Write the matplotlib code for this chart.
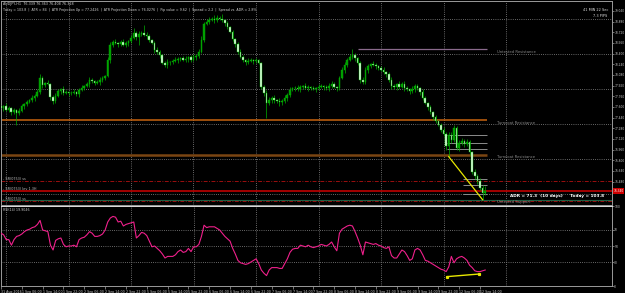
import matplotlib
matplotlib.use("Agg")
import matplotlib.pyplot as plt
import numpy as np
from matplotlib.transforms import blended_transform_factory as btf

# ---------------- data ----------------
symbol_line = "AUDJPY,H1  76.339 76.363 76.408 76.328"
info_line = ("Today = 103.8  |  ATR = 84  |  ATR Projection Up = 77.2426  |  ATR Projection Down = 76.0276  |"
             "  Pip value = 9.62  |  Spread = 2.2  |  Spread vs. ADR = 2.8%")
timer_lines = ["41 MIN 22 Sec", "7.3 PIPS"]
adr_text = "ADR = 71.3  (10 days)     Today = 103.8"
rsi_title = "RSI(14) 19.9046"

first_open = 77.615
close = [
    # 31 Aug 22:00-23:00
    77.585, 77.615,
    # 1 Sep
    77.555, 77.585, 77.525, 77.555, 77.510, 77.540, 77.615, 77.645, 77.675, 77.705, 77.735, 77.765,
    77.825, 78.035, 77.930, 77.960, 77.945, 77.750, 77.690, 77.765, 77.840, 77.870, 77.810, 77.825,
    # 2 Sep
    77.810, 77.810, 77.825, 77.795, 77.855, 77.885, 77.915, 77.945, 78.005, 77.990, 77.960, 77.975,
    78.005, 78.035, 78.065, 78.305, 78.530, 78.575, 78.560, 78.545, 78.575, 78.530, 78.560, 78.590,
    # 5 Sep
    78.635, 78.710, 78.650, 78.695, 78.710, 78.680, 78.665, 78.605, 78.560, 78.455, 78.425, 78.380,
    78.260, 78.230, 78.275, 78.275, 78.290, 78.305, 78.320, 78.335, 78.305, 78.320, 78.350, 78.305,
    # 6 Sep
    78.350, 78.365, 78.425, 78.605, 78.845, 78.875, 78.905, 78.920, 78.905, 78.935, 78.920, 78.905,
    78.860, 78.800, 78.725, 78.620, 78.545, 78.425, 78.350, 78.305, 78.275, 78.290, 78.305, 78.290,
    # 7 Sep
    78.305, 78.260, 77.900, 77.810, 77.660, 77.705, 77.735, 77.705, 77.690, 77.675, 77.690, 77.735,
    77.780, 77.855, 77.885, 77.885, 77.870, 77.900, 77.915, 77.885, 77.900, 77.885, 77.870, 77.885,
    # 8 Sep
    77.900, 77.915, 77.900, 77.885, 77.915, 77.945, 77.900, 77.885, 78.035, 78.155, 78.230, 78.305,
    78.350, 78.380, 78.335, 78.260, 78.005, 77.975, 78.155, 78.215, 78.245, 78.230, 78.215, 78.185,
    # 9 Sep
    78.155, 78.125, 78.095, 78.005, 77.915, 77.900, 77.945, 77.900, 77.945, 77.885, 77.870, 77.840,
    77.870, 77.915, 77.885, 77.825, 77.735, 77.660, 77.600, 77.525, 77.450, 77.390, 77.330, 77.255,
    # 12 Sep 00:00-16:00
    77.195, 77.015, 77.180, 77.105, 77.285, 76.985, 77.060, 77.090, 77.045, 77.075, 76.925, 76.625,
    76.565, 76.490, 76.385, 76.310, 76.340,
]
# wick lengths beyond the body, in pips
wick_up = [
    3, 2, 4, 3, 2, 3, 2, 4, 3, 2,
    3, 2, 4, 3, 5, 6, 3, 2, 4, 2,
    3, 4, 3, 2, 4, 3, 2, 3, 4, 2,
    3, 4, 2, 3, 5, 3, 2, 3, 4, 3,
    2, 4, 5, 3, 4, 2, 3, 5, 3, 2,
    4, 8, 3, 5, 3, 12, 4, 3, 2, 3,
    4, 3, 2, 3, 4, 2, 3, 5, 3, 2,
    3, 4, 2, 3, 5, 3, 4, 6, 3, 4,
    5, 3, 6, 4, 3, 7, 2, 3, 2, 3,
    2, 3, 4, 3, 2, 4, 3, 2, 3, 2,
    2, 3, 4, 5, 3, 4, 2, 5, 3, 4,
    3, 4, 2, 3, 5, 3, 2, 4, 3, 2,
    3, 2, 4, 3, 2, 3, 4, 5, 3, 2,
    3, 4, 5, 3, 4, 9, 3, 2, 3, 4,
    5, 3, 2, 4, 3, 2, 3, 4, 2, 3,
    4, 3, 2, 5, 3, 4, 3, 2, 4, 3,
    3, 2, 4, 3, 2, 3, 2, 3, 2, 3,
    4, 3, 4, 4, 4, 3, 5, 4, 3, 4,
    3, 2, 4, 3, 5, 4, 8,
]
wick_dn = [
    3, 4, 2, 3, 4, 3, 18, 3, 2, 4,
    3, 2, 3, 4, 2, 3, 4, 3, 2, 4,
    5, 3, 2, 4, 3, 2, 4, 3, 2, 3,
    4, 2, 3, 2, 4, 3, 3, 2, 4, 3,
    3, 2, 4, 3, 2, 4, 3, 2, 3, 4,
    3, 2, 4, 12, 3, 2, 4, 3, 2, 4,
    3, 4, 2, 3, 4, 5, 3, 2, 4, 3,
    2, 3, 4, 3, 2, 4, 3, 2, 3, 2,
    3, 2, 4, 3, 2, 3, 4, 3, 2, 3,
    4, 3, 2, 3, 4, 3, 2, 4, 3, 2,
    3, 4, 22, 3, 4, 5, 3, 6, 4, 3,
    4, 3, 2, 5, 3, 4, 3, 2, 4, 3,
    2, 4, 3, 2, 5, 3, 4, 3, 2, 4,
    3, 2, 4, 3, 2, 3, 4, 3, 4, 3,
    3, 4, 3, 2, 4, 3, 2, 3, 4, 3,
    5, 3, 4, 3, 2, 4, 3, 5, 3, 4,
    3, 4, 3, 2, 4, 3, 4, 3, 2, 3,
    3, 6, 16, 4, 3, 3, 4, 3, 4, 3,
    4, 3, 5, 4, 3, 10, 3,
]
rsi = [
    66, 64, 58, 58, 51, 58, 62, 63, 65, 68,
    70, 71, 73, 74, 77, 82, 70, 69, 68, 51,
    45, 57, 59, 60, 52, 49, 50, 50, 51, 49,
    58, 60, 61, 64, 68, 66, 62, 62, 63, 65,
    70, 80, 85, 87, 86, 80, 81, 75, 77, 78,
    79, 80, 60, 63, 67, 66, 63, 56, 49, 50,
    47, 44, 40, 35, 37, 37, 37, 39, 43, 45,
    42, 43, 47, 43, 49, 49, 52, 62, 76, 73,
    74, 74, 74, 72, 70, 66, 62, 59, 56, 47,
    40, 32, 29, 28, 27, 28, 30, 32, 34, 28,
    20, 16, 13, 20, 23, 23, 23, 22, 22, 28,
    34, 42, 46, 47, 47, 51, 50, 49, 51, 49,
    48, 49, 50, 52, 51, 50, 52, 55, 49, 44,
    66, 71, 73, 75, 76, 75, 68, 60, 51, 39,
    55, 54, 53, 52, 53, 51, 50, 48, 47, 49,
    38, 35, 35, 40, 45, 43, 38, 32, 34, 45,
    47, 45, 39, 32, 31, 29, 27, 25, 23, 21,
    20, 18, 24, 37, 29, 34, 36, 37, 35, 32,
    26, 23, 19, 18, 18, 19, 20,
]
xtick_labels = ["31 Aug 2016", "1 Sep 06:00", "1 Sep 14:00", "1 Sep 22:00", "2 Sep 06:00", "2 Sep 14:00",
                "2 Sep 22:00", "5 Sep 06:00", "5 Sep 14:00", "5 Sep 22:00", "6 Sep 06:00", "6 Sep 14:00",
                "6 Sep 22:00", "7 Sep 06:00", "7 Sep 14:00", "7 Sep 22:00", "8 Sep 06:00", "8 Sep 14:00",
                "8 Sep 22:00", "9 Sep 06:00", "9 Sep 14:00", "9 Sep 22:00", "12 Sep 06:00", "12 Sep 14:00"]
day_start_bars = [2, 26, 50, 74, 98, 122, 146, 170, 194]
price_ticks = [79.04 - 0.16 * k for k in range(17)]
price_grid = [78.92, 78.395, 77.87, 77.345, 76.82, 76.295]
rsi_ticks = [0, 30, 50, 70, 100]

# support / resistance levels
sr_orange = 77.405
sr_brown = 76.88
sr_purple = 78.47
sr_purple_from = 137
pivot_upper = [77.18, 77.06, 76.97]
pivot_lower = [76.52, 76.43, 76.295]
dashdot_levels = [76.49, 76.19]
current_price = 76.34
green_level = 76.21
zone_labels = [("Untested Resistance", 78.43), ("Turncoat Resistance", 77.36),
               ("Turncoat Resistance", 76.85), ("Untested Support", 76.175)]
left_labels = [("SR(0753) ss", 76.52), ("SR(0753) lev 1.3H", 76.37), ("SR(0753) ss", 76.22)]
trend_bars = [172, 185]
rsi_trend_x = [171.3, 183.8]
rsi_trend_y = [11.7, 15.0]

# ---------------- figure ----------------
W, H = 625, 293
fig = plt.figure(figsize=(W / 100, H / 100), dpi=100, facecolor="black")


def px_axes(x0, y0, x1, y1):
    return fig.add_axes([x0 / W, 1 - y1 / H, (x1 - x0) / W, (y1 - y0) / H])


ax = px_axes(1, 1, 612, 205)
axr = px_axes(1, 206, 612, 286)

BAR_PX = 62.5 / 24.0
xlo = 2 + (1 - 6) / BAR_PX
xhi = 2 + (612 - 6) / BAR_PX
n = len(close)
x = np.arange(n)
c = np.array(close)
o = np.r_[first_open, c[:-1]]
hi = np.maximum(o, c) + np.array(wick_up) * 0.01
lo = np.minimum(o, c) - np.array(wick_dn) * 0.01
end_bar = n - 1 + 0.7

GRID = dict(color="#8a8a8a", lw=0.6, linestyle=(0, (1, 1.6)))
for a in (ax, axr):
    a.set_facecolor("black")
    a.set_xlim(xlo, xhi)
    for b in day_start_bars:
        a.axvline(b, zorder=0, **GRID)
    for s in a.spines.values():
        s.set_color("#9a9a9a")
        s.set_linewidth(0.7)

ax.set_ylim(76.13, 79.19)
for p in price_grid:
    ax.axhline(p, zorder=0, **GRID)

# levels
ax.hlines(sr_orange, xlo, end_bar, color="#c8640f", lw=1.1, zorder=1)
ax.hlines(sr_brown, xlo, end_bar, color="#7a4512", lw=1.8, zorder=1)
ax.hlines(sr_purple, sr_purple_from, end_bar, color="#8a6a8c", lw=0.9, zorder=1)
ax.hlines(pivot_upper, 171.4, end_bar, color="#8c8c8c", lw=0.7, zorder=1)
ax.hlines(pivot_lower, 177.5, end_bar, color="#8c8c8c", lw=0.7, zorder=1)
for lv in dashdot_levels:
    ax.axhline(lv, color="#9a0f0f", lw=0.7, linestyle=(0, (4, 1.5, 1, 1.5)), zorder=1)
ax.axhline(green_level, color="#1f5e42", lw=0.8, zorder=1)
ax.axhline(current_price, color="#c00000", lw=1.2, zorder=1)

# candles
ax.vlines(x, lo, hi, color="#00b000", lw=0.5, zorder=2)
bull = c >= o
hb = np.where(np.abs(c - o) < 0.004, 0.004, np.abs(c - o))
ax.bar(x[bull], hb[bull], bottom=o[bull], width=0.6, color="#009c00", edgecolor="#00b400", lw=0.3, zorder=3)
ax.bar(x[~bull], hb[~bull], bottom=c[~bull], width=0.6, color="#e8ffe8", edgecolor="#00b400", lw=0.3, zorder=3)

# yellow trendline on lows
ax.plot([trend_bars[0], trend_bars[1]], [lo[trend_bars[0]], lo[trend_bars[1]]], color="#e8e800", lw=0.9, zorder=4)

# right price axis (label under the current-price box is hidden, as in the terminal)
shown_ticks = [v for v in price_ticks if abs(v - current_price) > 0.06]
ax.yaxis.tick_right()
ax.set_yticks(shown_ticks)
ax.set_yticklabels([f"{v:.3f}" for v in shown_ticks])
ax.tick_params(axis="y", colors="#c8c8c8", labelsize=2.1, length=1.2, width=0.4, pad=0.4)
ax.set_xticks([])

trb = btf(ax.transAxes, ax.transData)
ax.text(1.002, current_price, f"{current_price:.3f}", transform=trb, ha="left", va="center",
        fontsize=2.1, color="white", bbox=dict(fc="#d00000", ec="none", pad=0.5), clip_on=False, zorder=6)

for txt, yv in zone_labels:
    ax.text(190.6, yv, txt, fontsize=2.7, color="#8a8a8a", ha="left", va="center", zorder=5)
for txt, yv in left_labels:
    ax.text(0.7, yv, "- " + txt, fontsize=2.4, color="#bcbcbc", ha="left", va="center", zorder=5)
ax.text(195.5, 76.265, adr_text, fontsize=3.1, color="white", fontweight="bold", ha="left", va="center", zorder=5)

fig.text(3 / W, 1 - 4 / H, symbol_line, fontsize=2.4, color="#d0d0d0", ha="left", va="center")
fig.text(3 / W, 1 - 10 / H, info_line, fontsize=2.3, color="#d0d0d0", ha="left", va="center")
fig.text(608 / W, 1 - 10 / H, timer_lines[0], fontsize=2.5, color="#e0e0e0", ha="right", va="center")
fig.text(607 / W, 1 - 16 / H, timer_lines[1], fontsize=2.5, color="#e0e0e0", ha="right", va="center")

# ---------------- RSI panel ----------------
axr.set_ylim(0, 100)
for lv in (30, 50, 70):
    axr.axhline(lv, zorder=0, **GRID)
axr.spines["top"].set_color("#e0e0e0")
axr.plot(x, rsi, color="#f0208c", lw=0.8, zorder=3)
axr.plot(rsi_trend_x, rsi_trend_y, color="#e8e800", lw=1.0, marker="s", markersize=1.3, zorder=4)
axr.text(0.004, 0.97, rsi_title, transform=axr.transAxes, fontsize=2.3, color="#c8c8c8", ha="left", va="top")
axr.yaxis.tick_right()
axr.set_yticks(rsi_ticks)
axr.set_yticklabels([str(v) for v in rsi_ticks])
axr.tick_params(axis="y", colors="#c8c8c8", labelsize=2.2, length=1.2, width=0.4, pad=0.4)
axr.set_xticks(np.arange(0, n, 8)[:len(xtick_labels)])
axr.set_xticklabels(xtick_labels)
axr.tick_params(axis="x", colors="#c8c8c8", labelsize=2.3, length=2, width=0.4, pad=0.8)
for lab in axr.get_xticklabels():
    lab.set_horizontalalignment("left")

fig.savefig("out.png", dpi=100, facecolor="black")
